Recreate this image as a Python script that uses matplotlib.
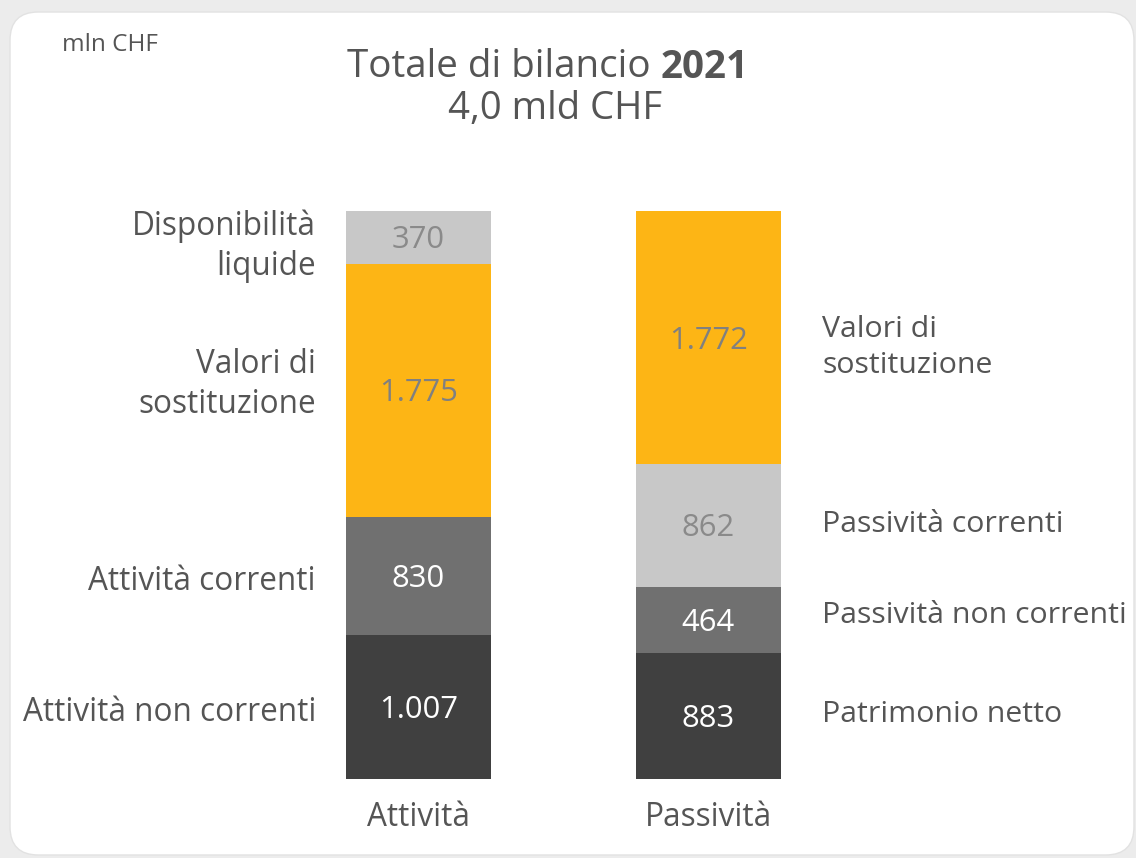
import matplotlib
matplotlib.use("Agg")
import matplotlib.pyplot as plt
from matplotlib.patches import FancyBboxPatch
import numpy as np

plt.rcParams['font.family'] = ['Open Sans', 'DejaVu Sans']

# ---- data ----
columns = ["Attività", "Passività"]
attivita_labels = ["Attività non correnti", "Attività correnti",
                   "Valori di\nsostituzione", "Disponibilità\nliquide"]
attivita_values = [1007, 830, 1775, 370]
attivita_texts = ["1.007", "830", "1.775", "370"]
passivita_labels = ["Patrimonio netto", "Passività non correnti",
                    "Passività correnti", "Valori di\nsostituzione"]
passivita_values = [883, 464, 862, 1772]
passivita_texts = ["883", "464", "862", "1.772"]
title_main = "Totale di bilancio "
title_year = "2021"
subtitle = "4,0 mld CHF"
unit = "mln CHF"

# ---- styles ----
attivita_colors = ["#404040", "#707070", "#FDB515", "#C8C8C8"]
attivita_tcolors = ["white", "white", "#808080", "#8a8a8a"]
passivita_colors = ["#404040", "#707070", "#C8C8C8", "#FDB515"]
passivita_tcolors = ["white", "white", "#8a8a8a", "#808080"]
left_dy = [5, 5, -6, 9]      # pixel nudges (down positive)
right_dy = [-2, -4, -1, 10]
txt = "#555555"

W, H = 1136, 858
fig = plt.figure(figsize=(W / 100, H / 100), dpi=100)
fig.patch.set_facecolor("#ececec")

panel = FancyBboxPatch((10 / W, 3 / H), (1124 / W), (843 / H),
                       boxstyle="round,pad=0,rounding_size=0.025",
                       transform=fig.transFigure, facecolor="white",
                       edgecolor="#e2e2e2", linewidth=1.0, zorder=-5,
                       mutation_aspect=W / H)
fig.patches.append(panel)

# axes mapping: x=0 -> px 418.5, x=1 -> px 708.5
px_per_unit = 290.0
x0 = -418.5 / px_per_unit
x1 = (W - 418.5) / px_per_unit
ax = fig.add_axes([0, (H - 779) / H, 1, (779 - 211) / H], zorder=2)
ax.set_xlim(x0, x1)
ymax = max(sum(attivita_values), sum(passivita_values))
ax.set_ylim(0, ymax)
ax.axis("off")
ax.patch.set_alpha(0)

bw = 145 / px_per_unit
fs_val = 22.3
fs_left = 22.7
fs_right = 21.8

def stack(xpos, values, colors, tcolors, texts, labels, side, dys):
    bottom = 0
    for v, c, tc, t, lab, dy in zip(values, colors, tcolors, texts, labels, dys):
        ax.bar(xpos, v, bottom=bottom, width=bw, color=c, linewidth=0)
        yc = bottom + v / 2
        ax.annotate(t, xy=(xpos, yc), xytext=(0, -3), textcoords="offset pixels",
                    ha="center", va="center", color=tc, fontsize=fs_val)
        if side == "left":
            ax.annotate(lab, xy=(xpos - bw / 2, yc), xytext=(-30, -dy),
                        textcoords="offset pixels", ha="right", va="center",
                        color=txt, fontsize=fs_left, linespacing=1.28,
                        annotation_clip=False)
        else:
            ax.annotate(lab, xy=(xpos + bw / 2, yc), xytext=(41, -dy),
                        textcoords="offset pixels", ha="left", va="center",
                        color=txt, fontsize=fs_right, linespacing=1.32,
                        annotation_clip=False)
        bottom += v

stack(0, attivita_values, attivita_colors, attivita_tcolors, attivita_texts,
      attivita_labels, "left", left_dy)
stack(1, passivita_values, passivita_colors, passivita_tcolors, passivita_texts,
      passivita_labels, "right", right_dy)

for i, c in enumerate(columns):
    ax.annotate(c, xy=(i, 0), xytext=(0, -39), textcoords="offset pixels",
                ha="center", va="center", color=txt, fontsize=fs_left,
                annotation_clip=False)

# titles
t1 = fig.text(0, 0, title_main, fontsize=27.8, color=txt)
t2 = fig.text(0, 0, title_year, fontsize=27.8, color=txt, fontweight="bold")
fig.canvas.draw()
r = fig.canvas.get_renderer()
w1 = t1.get_window_extent(r).width
w2 = t2.get_window_extent(r).width
start = 548 - (w1 + w2) / 2
yt = (H - 67) / H
t1.set_position((start / W, yt)); t1.set_va("center")
t2.set_position(((start + w1) / W, yt)); t2.set_va("center")
fig.text(555 / W, (H - 109) / H, subtitle, fontsize=27.5, color=txt,
         ha="center", va="center")
fig.text(62 / W, (H - 45) / H, unit, fontsize=17.5, color=txt,
         ha="left", va="center")

fig.savefig("out.png", dpi=100, facecolor=fig.get_facecolor())
